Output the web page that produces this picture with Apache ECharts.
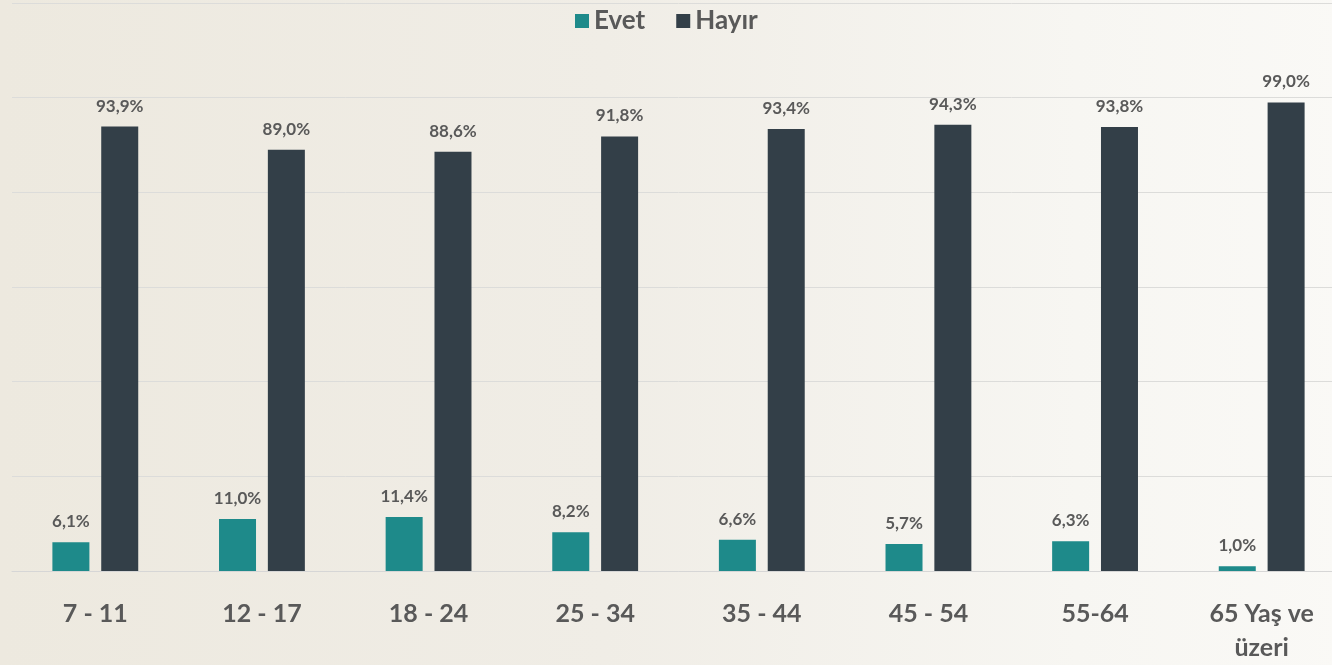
<!DOCTYPE html>
<html>
<head>
<meta charset="utf-8">
<script src="https://cdn.jsdelivr.net/npm/echarts@6/dist/echarts.min.js"></script>
<style>
html,body{margin:0;padding:0;overflow:hidden;width:1332px;height:665px;background:#F1EEE7;}
#c{width:1346px;height:665px;background:linear-gradient(90deg,#EDE9DF 0%,#F0EDE6 45%,#F7F6F2 80%,#FAF9F6 100%);}
</style>
</head>
<body>
<div id="c"></div>
<script>
const categories = ['7 - 11','12 - 17','18 - 24','25 - 34','35 - 44','45 - 54','55-64','65 Yaş ve\nüzeri'];
const evet = [6.1, 11.0, 11.4, 8.2, 6.6, 5.7, 6.3, 1.0];
const hayir = [93.9, 89.0, 88.6, 91.8, 93.4, 94.3, 93.8, 99.0];
const seriesNames = ['Evet','Hayır'];

const FONT = 'Lato, "Open Sans", sans-serif';
const chart = echarts.init(document.getElementById('c'));
const fmt = p => p.value.toFixed(1).replace('.', ',') + '%';
const labelCfg = {show:true, position:'top', distance:12, formatter:fmt, color:'#595959', fontSize:17, fontWeight:'bold', fontFamily:FONT};
chart.setOption({
  backgroundColor:'transparent',
  animation:false,
  legend:{
    top:3, left:570, itemWidth:14, itemHeight:14, itemGap:31,
    icon:'rect',
    textStyle:{color:'#595959', fontSize:26, fontWeight:'bold', fontFamily:FONT},
    data:seriesNames
  },
  grid:{left:12, right:1, top:3, bottom:94},
  xAxis:{
    type:'category', data:categories,
    axisLine:{lineStyle:{color:'#D6D6D6'}},
    axisTick:{show:false},
    axisLabel:{color:'#595959', fontSize:25, fontWeight:'bold', fontFamily:FONT, margin:26, lineHeight:34, interval:0}
  },
  yAxis:{
    type:'value', min:0, max:120, interval:20,
    axisLabel:{show:false}, axisLine:{show:false}, axisTick:{show:false},
    splitLine:{lineStyle:{color:'#DCDCDA', width:1}}
  },
  series:[
    {name:seriesNames[0], type:'bar', data:evet, barWidth:37, barGap:'32%', itemStyle:{color:'#1E8A8A'}, label:labelCfg},
    {name:seriesNames[1], type:'bar', data:hayir, barWidth:37, barGap:'32%', itemStyle:{color:'#333F48'}, label:labelCfg}
  ]
});
</script>
</body>
</html>
